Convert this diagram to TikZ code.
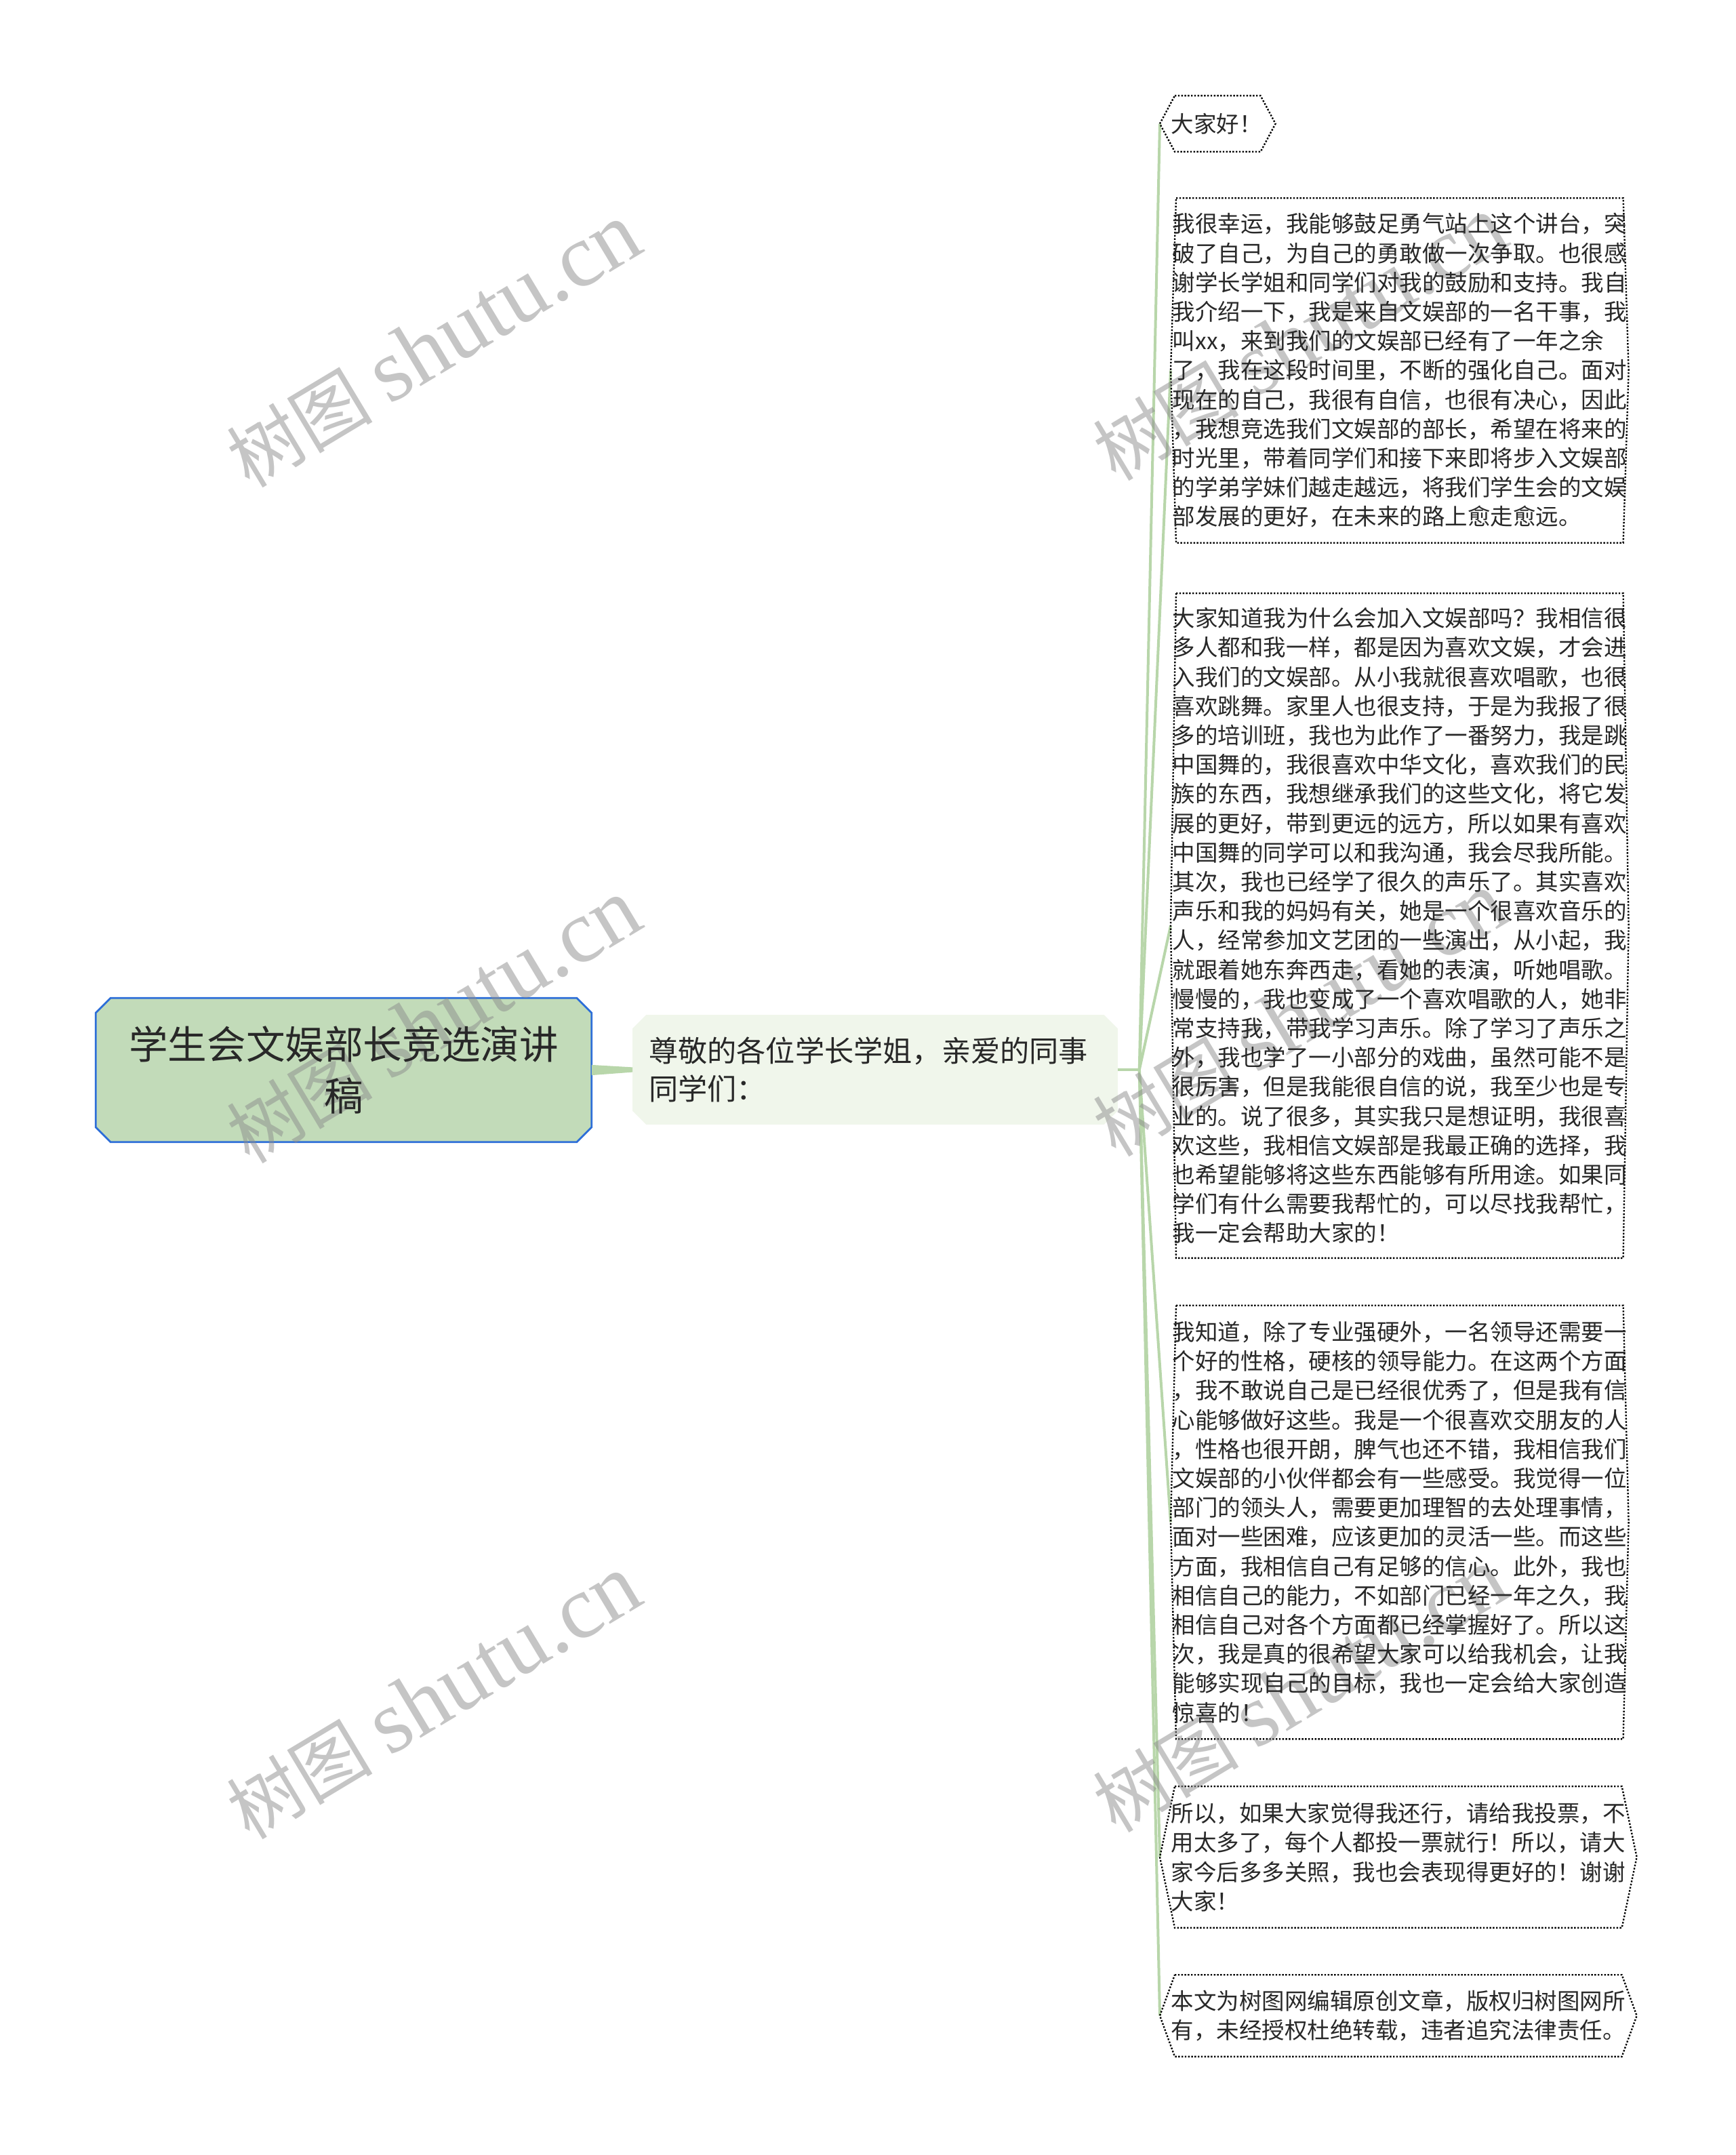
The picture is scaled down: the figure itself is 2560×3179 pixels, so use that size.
\documentclass[tikz,border=0pt]{standalone}
\usepackage{fontspec}
\setmainfont{Noto Sans CJK SC}
\newfontfamily\wmlatin{Liberation Serif}
\usetikzlibrary{backgrounds, positioning}
\definecolor{rootfill}{RGB}{194,219,185}
\definecolor{rootline}{RGB}{46,111,216}
\definecolor{subfill}{RGB}{240,246,235}
\definecolor{linkgreen}{RGB}{184,214,170}
\definecolor{inkgray}{RGB}{40,40,40}
% frame of a leaf: node, corner inset, point outset
\newcommand{\leafframe}[3]{\draw[leafline] ([xshift=#2]#1.north west) -- ([xshift=-#2]#1.north east)
  -- ([xshift=#3]#1.east) -- ([xshift=-#2]#1.south east) -- ([xshift=#2]#1.south west)
  -- ([xshift=-#3]#1.west) -- cycle;}
% box with cut corners: node, cut size, style
\newcommand{\chamferframe}[3]{\path[#3] ([xshift=#2]#1.north west) -- ([xshift=-#2]#1.north east)
  -- ([yshift=-#2]#1.north east) -- ([yshift=#2]#1.south east) -- ([xshift=-#2]#1.south east)
  -- ([xshift=#2]#1.south west) -- ([yshift=#2]#1.south west) -- ([yshift=-#2]#1.north west) -- cycle;}
\tikzset{%
  % Specifications for style of nodes:
            rootnode/.style = {text width=182.5pt, inner sep=0pt, minimum height=52.75pt,
                            align=center, text=inkgray, font=\fontsize{14.4pt}{19pt}\selectfont},
            subnode/.style = {text width=167pt, inner xsep=5.75pt, inner ysep=0pt, minimum height=40pt,
                            align=left, text=inkgray, font=\fontsize{10.8pt}{14pt}\selectfont},
            leaf/.style = {anchor=west, text width=167.5pt, inner sep=0pt, align=left,
                            text=inkgray, font=\fontsize{8.375pt}{10.8pt}\selectfont},
            leafline/.style = {draw=black, line width=0.6pt, dash pattern=on 0.6pt off 0.6pt},
            branch/.style = {draw=linkgreen, line width=1pt},
            wmark/.style = {rotate=31, inner sep=0pt, text=black!45, text opacity=0.5,
                            font=\fontsize{27pt}{27pt}\selectfont}
}
\begin{document}
\begin{tikzpicture}[x=0.25pt, y=0.25pt]
  \useasboundingbox (0,0) rectangle (2560,-3179);

  \node[rootnode] (root) at (507,-1578.5) {学生会文娱部长竞选演讲\\稿};
  \node[subnode] (sub) at (1291,-1578) {尊敬的各位学长学姐，亲爱的同事\\同学们：};
  \coordinate[right=8pt of sub] (hub);

  \node[leaf, text width=34.25pt, minimum height=20.25pt] (l1) at (1727,-182.5) {大家好！};
  \node[leaf, minimum height=126.75pt] (l2) at (1729,-546.5) {我很幸运，我能够鼓足勇气站上这个讲台，突\\
破了自己，为自己的勇敢做一次争取。也很感\\
谢学长学姐和同学们对我的鼓励和支持。我自\\
我介绍一下，我是来自文娱部的一名干事，我\\
叫xx，来到我们的文娱部已经有了一年之余\\
了，我在这段时间里，不断的强化自己。面对\\
现在的自己，我很有自信，也很有决心，因此\\
，我想竞选我们文娱部的部长，希望在将来的\\
时光里，带着同学们和接下来即将步入文娱部\\
的学弟学妹们越走越远，将我们学生会的文娱\\
部发展的更好，在未来的路上愈走愈远。};
  \node[leaf, minimum height=244.75pt] (l3) at (1729,-1365.5) {大家知道我为什么会加入文娱部吗？我相信很\\
多人都和我一样，都是因为喜欢文娱，才会进\\
入我们的文娱部。从小我就很喜欢唱歌，也很\\
喜欢跳舞。家里人也很支持，于是为我报了很\\
多的培训班，我也为此作了一番努力，我是跳\\
中国舞的，我很喜欢中华文化，喜欢我们的民\\
族的东西，我想继承我们的这些文化，将它发\\
展的更好，带到更远的远方，所以如果有喜欢\\
中国舞的同学可以和我沟通，我会尽我所能。\\
其次，我也已经学了很久的声乐了。其实喜欢\\
声乐和我的妈妈有关，她是一个很喜欢音乐的\\
人，经常参加文艺团的一些演出，从小起，我\\
就跟着她东奔西走，看她的表演，听她唱歌。\\
慢慢的，我也变成了一个喜欢唱歌的人，她非\\
常支持我，带我学习声乐。除了学习了声乐之\\
外，我也学了一小部分的戏曲，虽然可能不是\\
很厉害，但是我能很自信的说，我至少也是专\\
业的。说了很多，其实我只是想证明，我很喜\\
欢这些，我相信文娱部是我最正确的选择，我\\
也希望能够将这些东西能够有所用途。如果同\\
学们有什么需要我帮忙的，可以尽找我帮忙，\\
我一定会帮助大家的！};
  \node[leaf, minimum height=159.5pt] (l4) at (1729,-2245.5) {我知道，除了专业强硬外，一名领导还需要一\\
个好的性格，硬核的领导能力。在这两个方面\\
，我不敢说自己是已经很优秀了，但是我有信\\
心能够做好这些。我是一个很喜欢交朋友的人\\
，性格也很开朗，脾气也还不错，我相信我们\\
文娱部的小伙伴都会有一些感受。我觉得一位\\
部门的领头人，需要更加理智的去处理事情，\\
面对一些困难，应该更加的灵活一些。而这些\\
方面，我相信自己有足够的信心。此外，我也\\
相信自己的能力，不如部门已经一年之久，我\\
相信自己对各个方面都已经掌握好了。所以这\\
次，我是真的很希望大家可以给我机会，让我\\
能够实现自己的目标，我也一定会给大家创造\\
惊喜的！};
  \node[leaf, minimum height=51.75pt] (l5) at (1727,-2739.5) {所以，如果大家觉得我还行，请给我投票，不\\
用太多了，每个人都投一票就行！所以，请大\\
家今后多多关照，我也会表现得更好的！谢谢\\
大家！};
  \node[leaf, minimum height=29.75pt] (l6) at (1727,-2973.5) {本文为树图网编辑原创文章，版权归树图网所\\
有，未经授权杜绝转载，违者追究法律责任。};

  \begin{scope}[on background layer]
    \fill[white] (0,0) rectangle (2560,-3179);
    \chamferframe{root}{5.5pt}{fill=rootfill, draw=rootline, line width=0.7pt}
    \chamferframe{sub}{5pt}{fill=subfill}
    \fill[linkgreen] ([yshift=1.9pt]root.east) -- ([yshift=0.9pt]sub.west)
      -- ([yshift=-0.9pt]sub.west) -- ([yshift=-1.9pt]root.east) -- cycle;
    \draw[branch] (sub.east) -- (hub);
    \foreach \leaf/\tip in {l1/4pt, l2/0.5pt, l3/0.5pt, l4/0.5pt, l5/4pt, l6/4pt}{
      \draw[branch] (hub) -- ([xshift=-\tip]\leaf.west);
      \leafframe{\leaf}{1.5pt}{\tip}
    }
    % watermarks
    \foreach \wx/\wy [count=\i] in {640/-510, 640/-1507, 640/-2504, 1918/-500, 1918/-1497, 1918/-2494}
      \node[wmark] (wm\i) at (\wx,\wy) {树图 {\wmlatin\fontsize{33pt}{33pt}\selectfont shutu.cn}};
  \end{scope}
\end{tikzpicture}
\end{document}
